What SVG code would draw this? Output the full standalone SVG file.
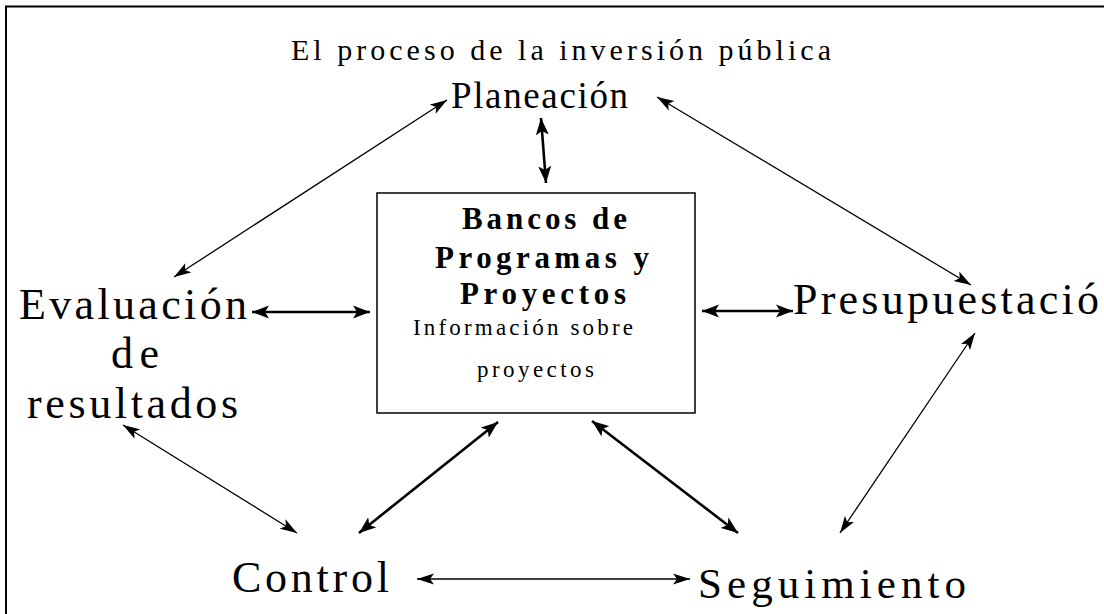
<svg xmlns="http://www.w3.org/2000/svg" width="1104" height="614" viewBox="0 0 1104 614">
<defs>
<style>
.t{font-family:"Liberation Serif","Times New Roman",serif;fill:#000}
.b{font-weight:bold}
.thin{stroke:#000;stroke-width:1.3;fill:none;marker-start:url(#ah);marker-end:url(#ah)}
.thick{stroke:#000;stroke-width:2.6;fill:none;marker-start:url(#ahb);marker-end:url(#ahb)}
</style>
<marker id="ah" markerUnits="userSpaceOnUse" markerWidth="18" markerHeight="12" viewBox="0 0 18 12" refX="17" refY="6" orient="auto-start-reverse">
<path d="M0,0.5 L17,6 L0,11.5 L4,6 z" fill="#000"/>
</marker>
<marker id="ahb" markerUnits="userSpaceOnUse" markerWidth="18" markerHeight="14" viewBox="0 0 18 14" refX="17" refY="7" orient="auto-start-reverse">
<path d="M0,0.5 L17,7 L0,13.5 L4,7 z" fill="#000"/>
</marker>
</defs>
<rect width="1104" height="614" fill="#fff"/>
<path d="M6,614 V6.5 H1104" fill="none" stroke="#000" stroke-width="2"/>
<g id="title"><text class="t" x="291" y="60" font-size="30" textLength="540" lengthAdjust="spacing">El proceso de la inversión pública</text></g>
<g id="planeacion"><text class="t" x="451" y="108" font-size="37" textLength="177" lengthAdjust="spacing">Planeación</text></g>
<g id="evaluacion">
<text class="t" x="19" y="319" font-size="44" textLength="228" lengthAdjust="spacing">Evaluación</text>
<text class="t" x="111" y="368" font-size="44" textLength="48" lengthAdjust="spacing">de</text>
<text class="t" x="27" y="418" font-size="44" textLength="211" lengthAdjust="spacing">resultados</text>
</g>
<g id="presupuestacion"><text class="t" x="793" y="314" font-size="44" textLength="306" lengthAdjust="spacing">Presupuestació</text></g>
<g id="control"><text class="t" x="232" y="592" font-size="44" textLength="157" lengthAdjust="spacing">Control</text></g>
<g id="seguimiento"><text class="t" x="698" y="598" font-size="43" textLength="268" lengthAdjust="spacing">Seguimiento</text></g>
<g id="bancos">
<rect x="377" y="193" width="318" height="220" fill="#fff" stroke="#000" stroke-width="1.5"/>
<text class="t b" x="462" y="229" font-size="31" textLength="165" lengthAdjust="spacing">Bancos de</text>
<text class="t b" x="435" y="268" font-size="31" textLength="214" lengthAdjust="spacing">Programas y</text>
<text class="t b" x="460" y="304" font-size="31" textLength="166" lengthAdjust="spacing">Proyectos</text>
<text class="t" x="413" y="335" font-size="23" textLength="220" lengthAdjust="spacing">Información  sobre</text>
<text class="t" x="477" y="377" font-size="23" textLength="117" lengthAdjust="spacing">proyectos</text>
</g>
<g id="connectors">
<line class="thin" x1="447" y1="100" x2="174" y2="277"/>
<line class="thin" x1="657" y1="97" x2="971" y2="285"/>
<line class="thin" x1="975" y1="333" x2="840" y2="533"/>
<line class="thin" x1="123" y1="425" x2="297" y2="533"/>
<line class="thin" x1="417" y1="579" x2="690" y2="579"/>
<line class="thick" x1="541" y1="118" x2="546" y2="183"/>
<line class="thick" x1="252" y1="312" x2="370" y2="312"/>
<line class="thick" x1="702" y1="311" x2="793" y2="311"/>
<line class="thick" x1="359" y1="533" x2="498" y2="422"/>
<line class="thick" x1="592" y1="421" x2="738" y2="533"/>
</g>
</svg>
